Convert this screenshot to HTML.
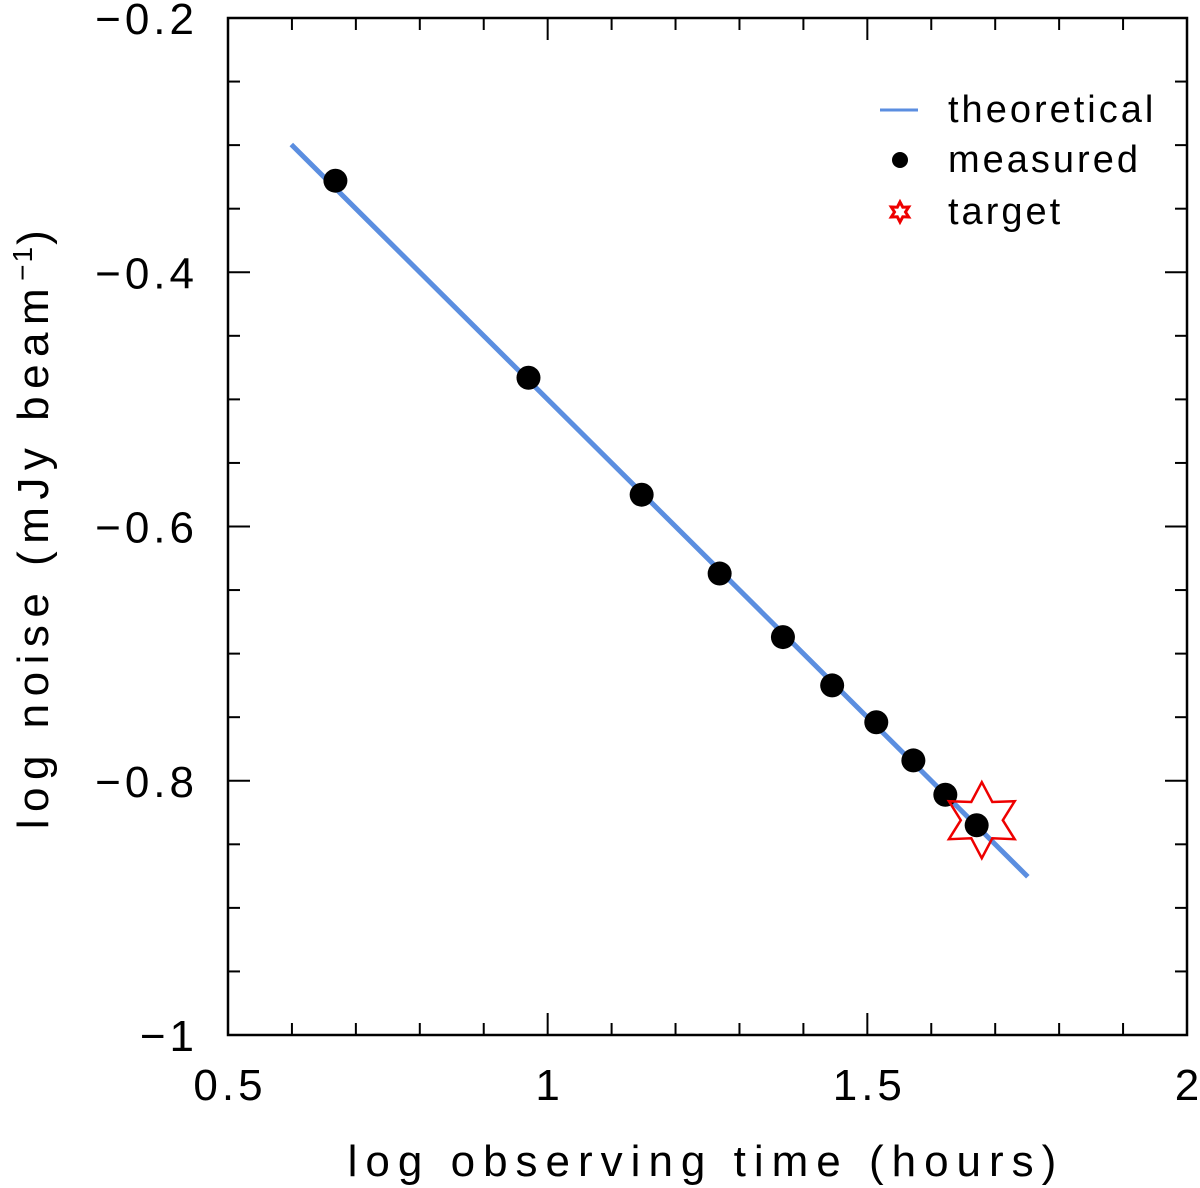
<!DOCTYPE html>
<html><head><meta charset="utf-8"><style>
html,body{margin:0;padding:0;background:#fff;}
svg{display:block;font-family:"Liberation Sans","DejaVu Sans",sans-serif;}
</style></head><body>
<svg id="chart" width="1200" height="1188" viewBox="0 0 1200 1188" xmlns="http://www.w3.org/2000/svg">
<rect x="228" y="18" width="959" height="1017" fill="none" stroke="#000" stroke-width="2.5"/>
<g id="ticks"></g>
<g id="labels" font-size="44" fill="#000" letter-spacing="4"></g>
<g id="marks"></g>
<text x="706" y="1176" font-size="44" text-anchor="middle" letter-spacing="8">log observing time (hours)</text>
<text transform="translate(48,526) rotate(-90)" font-size="44" text-anchor="middle" letter-spacing="7.5">log noise (mJy beam<tspan font-size="28" dy="-16" letter-spacing="2">−1</tspan><tspan dy="16">)</tspan></text>
<g font-size="38">
<line x1="880" y1="110" x2="918" y2="110" stroke="#5b8ee0" stroke-width="3"/>
<text x="948" y="122" letter-spacing="3">theoretical</text>
<circle cx="900" cy="160" r="8" fill="#000"/>
<text x="948" y="172" letter-spacing="3">measured</text>
<polygon id="legstar" fill="none" stroke="#e00" stroke-width="3"/>
<text x="948" y="224" letter-spacing="3">target</text>
</g>
</svg>
<script>
const xTicks=[0.5,1,1.5,2];
const xTickLabels=["0.5","1","1.5","2"];
const yTicks=[-0.2,-0.4,-0.6,-0.8,-1];
const yTickLabels=["−0.2","−0.4","−0.6","−0.8","−1"];
const lineX=[0.599,1.751];
const lineY=[-0.2995,-0.8755];
const measX=[0.668,0.970,1.147,1.269,1.368,1.445,1.514,1.572,1.622,1.671];
const measY=[-0.328,-0.483,-0.575,-0.637,-0.687,-0.725,-0.754,-0.784,-0.811,-0.835];
const targetX=[1.679];
const targetY=[-0.831];

const X0=228,X1=1187,Y0=18,Y1=1035;
const sx=v=>X0+(v-0.5)/1.5*(X1-X0);
const sy=v=>Y0+(-0.2-v)/0.8*(Y1-Y0);
const NS="http://www.w3.org/2000/svg";
const mk=(t,a,p)=>{const e=document.createElementNS(NS,t);for(const k in a)e.setAttribute(k,a[k]);p.appendChild(e);return e;};
const tg=document.getElementById('ticks'),lg=document.getElementById('labels'),mg=document.getElementById('marks');
for(let i=0;i<=15;i++){const v=0.5+i*0.1,x=sx(v),L=(i%5==0)?22:12;
 const a=mk('line',{x1:x,y1:Y1,x2:x,y2:Y1-L,stroke:'#000','stroke-width':2},tg);
 
 const b=mk('line',{x1:x,y1:Y0,x2:x,y2:Y0+L,stroke:'#000','stroke-width':2},tg);
 }
for(let i=0;i<=16;i++){const v=-0.2-i*0.05,y=sy(v),L=(i%4==0)?22:12;
 const a=mk('line',{x1:X0,y1:y,x2:X0+L,y2:y,stroke:'#000','stroke-width':2},tg);
 
 const b=mk('line',{x1:X1,y1:y,x2:X1-L,y2:y,stroke:'#000','stroke-width':2},tg);
 }
xTicks.forEach((v,i)=>{const t=mk('text',{x:sx(v)+2,y:1100,'text-anchor':'middle'},lg);t.textContent=xTickLabels[i];
 });
yTicks.forEach((v,i)=>{const t=mk('text',{x:198,y:sy(v)+16,'text-anchor':'end'},lg);t.textContent=yTickLabels[i];
 });
const ln=mk('line',{x1:sx(lineX[0]),y1:sy(lineY[0]),x2:sx(lineX[1]),y2:sy(lineY[1]),stroke:'#5b8ee0','stroke-width':5},mg);

measX.forEach((v,i)=>{const c=mk('circle',{cx:sx(v),cy:sy(measY[i]),r:12,fill:'#000'},mg);
 });
function star(cx,cy,R,r){let p=[];for(let k=0;k<12;k++){const a=Math.PI/2+k*Math.PI/6,rr=k%2?r:R;p.push((cx+rr*Math.cos(a)).toFixed(1)+','+(cy-rr*Math.sin(a)).toFixed(1));}return p.join(' ');}
targetX.forEach((v,i)=>{const s=mk('polygon',{points:star(sx(v),sy(targetY[i]),38,21),fill:'none',stroke:'#e00','stroke-width':2.5},mg);
 });
document.getElementById('legstar').setAttribute('points',star(900,212,10,5.5));
</script>
</body></html>
